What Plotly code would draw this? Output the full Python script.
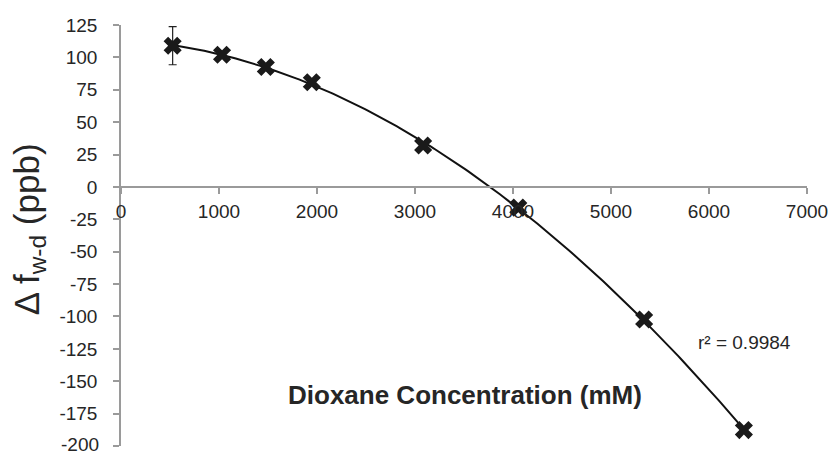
import numpy as np
import plotly.graph_objects as go

# Data
conc_mM = [527, 1031, 1478, 1947, 3083, 4054, 5338, 6356]
delta_f_ppb = [109, 102, 92.6, 80.8, 32, -16, -102.3, -187.7]
err_ppb = [14.7, 0, 0, 0, 0, 0, 0, 0]
x_ticks = [0, 1000, 2000, 3000, 4000, 5000, 6000, 7000]
y_ticks = [125, 100, 75, 50, 25, 0, -25, -50, -75, -100, -125, -150, -175, -200]
r2_label = "r² = 0.9984"

# Polynomial trendline fitted from the data
coef = np.polyfit(conc_mM, delta_f_ppb, 3)
xf = np.linspace(min(conc_mM), max(conc_mM), 200)
yf = np.polyval(coef, xf)

FONT = "Liberation Sans, Arial, sans-serif"
AXIS_GRAY = "#9a9a9a"
TEXT = "#262626"

fig = go.Figure()
fig.add_trace(go.Scatter(x=xf, y=yf, mode="lines",
                         line=dict(color="#111111", width=2), hoverinfo="skip"))
fig.add_trace(go.Scatter(
    x=conc_mM, y=delta_f_ppb, mode="markers",
    marker=dict(symbol="x", size=16, color="#1a1a1a", line=dict(width=0)),
    error_y=dict(type="data", array=err_ppb, visible=True, color="#222222",
                 thickness=1.2, width=4),
))

y_min, y_max = -200, 125
# the bottom-most label is drawn as an annotation so it is not dropped at the page edge
y_ticktext = [str(v) if v != y_min else "" for v in y_ticks]
fig.update_layout(
    width=836, height=454,
    margin=dict(l=121, r=25, t=25, b=8),
    paper_bgcolor="white", plot_bgcolor="white",
    showlegend=False,
    font=dict(family=FONT, color=TEXT),
    xaxis=dict(range=[0, 7000], tickvals=x_ticks, ticktext=[str(v) for v in x_ticks],
               showgrid=False, zeroline=False, showline=True, linecolor=AXIS_GRAY,
               linewidth=1.5, ticks="outside", ticklen=6, tickcolor=AXIS_GRAY,
               tickwidth=1.5, tickfont=dict(size=19, color=TEXT, family=FONT),
               anchor="free", position=(0 - y_min) / (y_max - y_min),
               ticklabelstandoff=2),
    yaxis=dict(range=[y_min, y_max], tickvals=y_ticks, ticktext=y_ticktext,
               showgrid=False, zeroline=False, showline=True, linecolor=AXIS_GRAY,
               linewidth=1.5, ticks="outside", ticklen=6, tickcolor=AXIS_GRAY,
               tickwidth=1.5, tickfont=dict(size=19, color=TEXT, family=FONT),
               ticklabelstandoff=12),
)

fig.add_annotation(text=str(y_min), xref="paper", yref="y", x=-20 / 690, y=y_min,
                   xanchor="right", yanchor="middle", yshift=2, showarrow=False,
                   font=dict(size=19, color=TEXT, family=FONT))
fig.add_annotation(text="Δ f<sub>w-d</sub> (ppb)", xref="paper", yref="paper",
                   x=-0.134, y=0.515, xanchor="center", yanchor="middle",
                   textangle=-90, showarrow=False,
                   font=dict(size=35, color=TEXT, family=FONT))
fig.add_annotation(text="<b>Dioxane Concentration (mM)</b>", x=3509, y=-160.7,
                   xanchor="center", yanchor="middle", showarrow=False,
                   font=dict(size=26, color=TEXT, family=FONT))
fig.add_annotation(text=r2_label, x=6365, y=-120.4, xanchor="center", yanchor="middle",
                   showarrow=False, font=dict(size=19, color=TEXT, family=FONT))

fig.write_html(
    "out.html",
    config={"displayModeBar": False},
    post_script=("document.documentElement.style.overflow='hidden';"
                 "document.body.style.margin='0';document.body.style.overflow='hidden';"),
)
